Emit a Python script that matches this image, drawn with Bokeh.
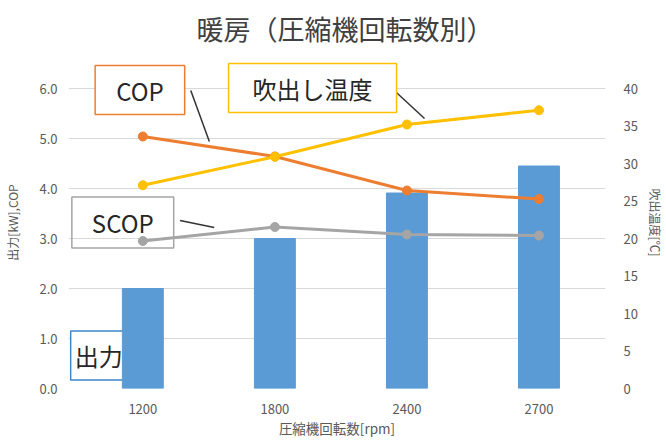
import math
from bokeh.plotting import figure
from bokeh.models import (Range1d, LinearAxis, FixedTicker, PrintfTickFormatter,
                          CustomJSTickFormatter, Label)
from bokeh.embed import file_html
from bokeh.resources import INLINE

# ---- data ----
rpm_labels = ["1200", "1800", "2400", "2700"]
output_kw = [2.0, 3.0, 3.91, 4.45]
cop = [5.04, 4.64, 3.96, 3.79]
scop = [2.95, 3.23, 3.08, 3.06]
outlet_temp = [27.1, 30.9, 35.2, 37.1]

left_ticks = [0, 1, 2, 3, 4, 5, 6]
right_ticks = [0, 5, 10, 15, 20, 25, 30, 35, 40]

# ---- layout (pixels) ----
W, H = 666, 440
FL, FR, FT, FB = 68, 617, 56, 388
Y_TOP = (FB - FT) / 50.0          # 6.0 sits at y=88
XN = len(rpm_labels)
PX_PER_CAT = 135.0
FIRST_CENTER_PX = 144.0
X0 = 0.5 - (FIRST_CENTER_PX - FL) / PX_PER_CAT
X1 = X0 + (FR - FL) / PX_PER_CAT


def dx(px):
    return X0 + (px - FL) / PX_PER_CAT


def dy(py):
    return (FB - py) / 50.0


FONT = "Noto Sans CJK JP"
TICK_COL = "#595959"

xs = [i + 0.5 for i in range(XN)]

p = figure(width=W, height=H, output_backend="svg", toolbar_location=None,
           x_range=Range1d(X0, X1), y_range=Range1d(0, Y_TOP),
           min_border_left=FL, min_border_right=W - FR,
           min_border_top=FT, min_border_bottom=H - FB)
p.outline_line_color = None
p.background_fill_color = "white"
p.border_fill_color = "white"

p.title.text = "暖房（圧縮機回転数別）"
p.title.text_font = FONT
p.title.text_font_size = "27px"
p.title.text_font_style = "normal"
p.title.text_color = "#404040"
p.title.align = "left"
p.title.offset = 128
p.title.vertical_align = "middle"
p.title.standoff = 15

p.extra_y_ranges = {"temp": Range1d(0, Y_TOP * 40 / 6.0)}

# left axis
ya = p.yaxis[0]
ya.ticker = FixedTicker(ticks=left_ticks)
ya.formatter = PrintfTickFormatter(format="%.1f")
ya.axis_label = "出力[kW],COP"
ya.axis_label_standoff = 15
ya.major_label_standoff = 5

# right axis
ra = LinearAxis(y_range_name="temp", ticker=FixedTicker(ticks=right_ticks))
ra.axis_label = "吹出温度[℃]"
ra.axis_label_standoff = 6
ra.major_label_standoff = 12
p.add_layout(ra, "right")

# bottom axis
xa = p.xaxis[0]
xa.ticker = FixedTicker(ticks=xs)
xa.formatter = CustomJSTickFormatter(args=dict(labels=rpm_labels),
                                     code="return labels[Math.floor(tick)];")
xa.axis_label = "圧縮機回転数[rpm]"
xa.axis_label_standoff = 1
xa.major_label_standoff = 9

for ax in [ya, ra, xa]:
    ax.axis_line_color = None
    ax.major_tick_line_color = None
    ax.minor_tick_line_color = None
    ax.major_label_text_font = FONT
    ax.major_label_text_font_size = "13px"
    ax.major_label_text_color = TICK_COL
    ax.axis_label_text_font = FONT
    ax.axis_label_text_font_style = "normal"
    ax.axis_label_text_font_size = "12px"
    ax.axis_label_text_color = TICK_COL
xa.axis_label_text_font_size = "13.5px"

p.xgrid.grid_line_color = None
p.ygrid.ticker = FixedTicker(ticks=left_ticks)
p.ygrid.grid_line_color = "#D9D9D9"
p.ygrid.grid_line_width = 1

# bars
p.vbar(x=xs, top=output_kw, width=0.31, color="#5B9BD5")

# lines
p.line(xs, scop, color="#A5A5A5", line_width=3)
p.scatter(xs, scop, size=9, color="#A5A5A5")
p.line(xs, cop, color="#ED7D31", line_width=3)
p.scatter(xs, cop, size=9, color="#ED7D31")
p.line(xs, outlet_temp, color="#FFC000", line_width=3, y_range_name="temp")
p.scatter(xs, outlet_temp, size=9, color="#FFC000", y_range_name="temp")

# leader lines of the callouts
leaders = [((193, 90), (212, 141)), ((401, 90), (432, 118)), ((182, 220), (217, 227))]
p.segment(x0=[dx(a[0]) for a, b in leaders], y0=[dy(a[1]) for a, b in leaders],
          x1=[dx(b[0]) for a, b in leaders], y1=[dy(b[1]) for a, b in leaders],
          line_color="#333333", line_width=1.5)


def callout(text, cx, cy, border, lpad, rpad, vpad, fill, level="annotation"):
    lab = Label(x=dx(cx), y=dy(cy), text=text, text_align="center", text_baseline="middle",
                text_font=FONT, text_font_size="24px", text_color="#262626",
                border_line_color=border, border_line_width=1.5,
                background_fill_color=fill,
                padding=dict(left=lpad, right=rpad, top=vpad, bottom=vpad), level=level)
    p.add_layout(lab)


callout("COP", 141, 89.5, "#ED7D31", 21, 21, 7, "white")
callout("吹出し温度", 317.5, 87.5, "#FFC000", 24, 24, 7, "white")
callout("SCOP", 123.5, 222, "#A5A5A5", 20, 20, 8, None)
callout("出力", 106, 355, "#3C86C8", 4, 18, 7, "white", level="underlay")

open("out.html", "w").write(file_html(p, INLINE))
